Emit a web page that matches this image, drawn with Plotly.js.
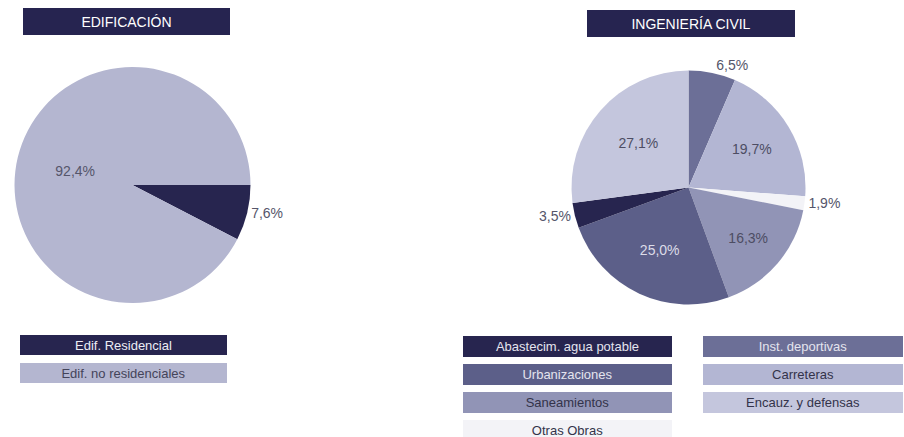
<!DOCTYPE html>
<html>
<head>
<meta charset="utf-8">
<script src="https://cdn.plot.ly/plotly-3.0.1.min.js"></script>
<style>html,body{margin:0;padding:0;background:#fff;}#chart{width:904px;height:437px;}</style>
</head>
<body>
<div id="chart"></div>
<script>
// ---- Data ----
const edifTitle = 'EDIFICACIÓN';
const edifLabels = ['Edif. Residencial', 'Edif. no residenciales'];
const edifValues = [7.6, 92.4];
const edifColors = ['#27254f', '#b4b6d0'];

const civilTitle = 'INGENIERÍA CIVIL';
const civilLabels = ['Inst. deportivas', 'Carreteras', 'Otras Obras', 'Saneamientos', 'Urbanizaciones', 'Abastecim. agua potable', 'Encauz. y defensas'];
const civilValues = [6.5, 19.7, 1.9, 16.3, 25.0, 3.5, 27.1];
const civilColors = ['#6c6f97', '#b3b6d3', '#f3f3f7', '#9194b6', '#5c5f89', '#27254f', '#c4c6dd'];
const civilLegendLeft = ['Abastecim. agua potable', 'Urbanizaciones', 'Saneamientos', 'Otras Obras'];
const civilLegendRight = ['Inst. deportivas', 'Carreteras', 'Encauz. y defensas'];

// ---- Layout helpers ----
const W = 904, H = 437;
const px = x => x / W;
const py = y => 1 - y / H;
const FONT = 'Liberation Sans, Arial, sans-serif';
const lightText = c => {
  const n = parseInt(c.slice(1), 16);
  const l = 0.299 * (n >> 16) + 0.587 * ((n >> 8) & 255) + 0.114 * (n & 255);
  return l < 150;
};

function pieDomain(cx, cy, r) {
  return { x: [px(cx - r), px(cx + r)], y: [py(cy + r), py(cy - r)] };
}

const edifTrace = {
  type: 'pie', labels: edifLabels, values: edifValues, sort: false,
  direction: 'clockwise', rotation: 90,
  marker: { colors: edifColors, line: { width: 0 } },
  texttemplate: '%{value:.1f}%',
  textposition: ['outside', 'inside'],
  insidetextorientation: 'horizontal',
  insidetextfont: { family: FONT, size: 14, color: '#55556a' },
  outsidetextfont: { family: FONT, size: 14, color: '#55556a' },
  domain: pieDomain(132.5, 185, 118),
  showlegend: false, hoverinfo: 'label+percent'
};

const civilTrace = {
  type: 'pie', labels: civilLabels, values: civilValues, sort: false,
  direction: 'clockwise', rotation: 0,
  marker: { colors: civilColors, line: { width: 0 } },
  texttemplate: '%{value:.1f}%',
  textposition: civilValues.map(v => v < 10 ? 'outside' : 'inside'),
  insidetextorientation: 'horizontal',
  insidetextfont: { family: FONT, size: 14, color: civilColors.map(c => lightText(c) ? '#dcdce8' : '#4d4d63') },
  outsidetextfont: { family: FONT, size: 14, color: '#55556a' },
  domain: pieDomain(688.5, 187.5, 117),
  showlegend: false, hoverinfo: 'label+percent'
};

const annotations = [];
function box(text, left, top, w, h, bg, fg, size) {
  annotations.push({
    xref: 'paper', yref: 'paper', x: px(left), y: py(top),
    xanchor: 'left', yanchor: 'top', width: w, height: h,
    text: text, showarrow: false, bgcolor: bg, borderpad: 0, borderwidth: 0,
    align: 'center', valign: 'middle',
    font: { family: FONT, size: size, color: fg }
  });
}
// titles
box(edifTitle, 23, 8, 207, 27, '#262450', '#ffffff', 14);
box(civilTitle, 587, 10, 208, 27, '#262450', '#ffffff', 14);
// legends
edifLabels.forEach((lab, i) => {
  const c = edifColors[i];
  box(lab, 20, 335 + i * 28, 207, 20, c, lightText(c) ? '#ececf4' : '#44445a', 13);
});
civilLegendLeft.forEach((lab, i) => {
  const c = civilColors[civilLabels.indexOf(lab)];
  box(lab, 463, 336 + i * 28, 209, 21, c, lightText(c) ? '#e4e4ee' : '#33334a', 13);
});
civilLegendRight.forEach((lab, i) => {
  const c = civilColors[civilLabels.indexOf(lab)];
  box(lab, 703, 336 + i * 28, 200, 21, c, lightText(c) ? '#e4e4ee' : '#33334a', 13);
});

const layout = {
  width: W, height: H,
  margin: { l: 0, r: 0, t: 0, b: 0 },
  paper_bgcolor: '#ffffff', plot_bgcolor: '#ffffff',
  separators: ',.',
  showlegend: false,
  font: { family: FONT },
  annotations: annotations
};

Plotly.newPlot('chart', [edifTrace, civilTrace], layout, { displayModeBar: false, staticPlot: true });
</script>
</body>
</html>
